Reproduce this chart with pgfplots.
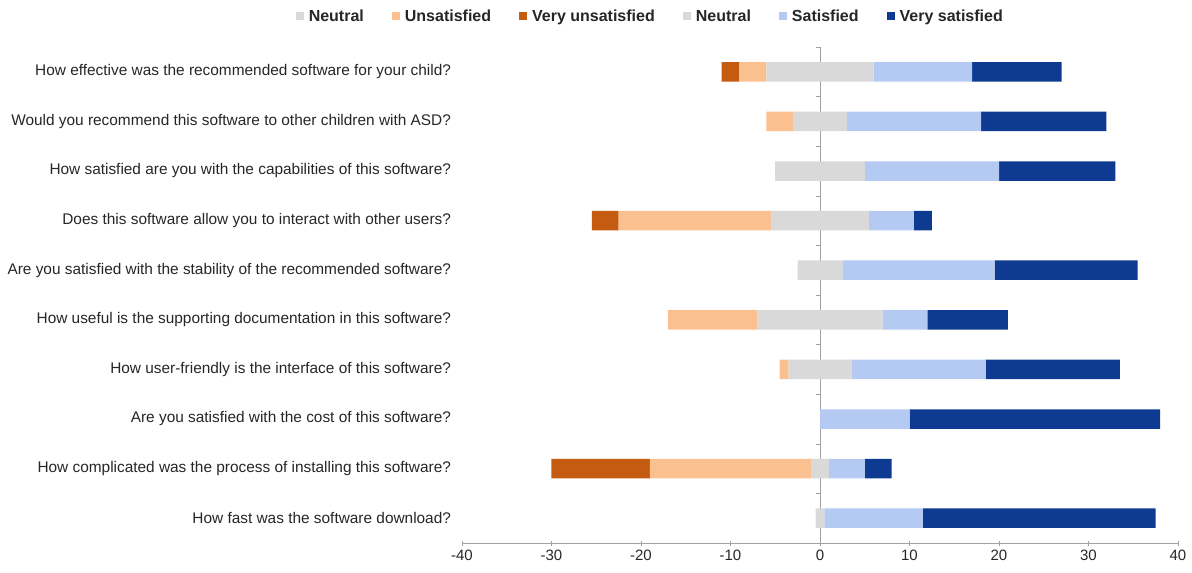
\documentclass[border=0pt]{standalone}
\usepackage{pgfplots}
\pgfplotsset{compat=1.18}
\usepackage{pgfplotstable}
\usepackage{fontspec}
\setmainfont{Liberation Sans}

\definecolor{neu}{RGB}{217,217,217}
\definecolor{uns}{RGB}{250,192,143}
\definecolor{vun}{RGB}{197,90,17}
\definecolor{sat}{RGB}{180,202,242}
\definecolor{vsa}{RGB}{14,58,146}
\definecolor{axgray}{RGB}{160,160,160}

% half of the neutral answers go left of zero, half right
\pgfplotstableread{
q nl u vu nr s vs
0 6 3 2 6 11 10
1 3 3 0 3 15 14
2 5 0 0 5 15 13
3 5.5 17 3 5.5 5 2
4 2.5 0 0 2.5 17 16
5 7 10 0 7 5 9
6 3.5 1 0 3.5 15 15
7 0 0 0 0 10 28
8 1 18 11 1 4 3
9 0.5 0 0 0.5 11 26
}\survey

\pgfplotsset{
  common/.style={
    width=716pt, height=496pt, scale only axis,
    xbar stacked, bar width=19.5pt,
    xmin=-40, xmax=40, ymin=-0.5, ymax=9.5, y dir=reverse,
    ytick={0,...,9},
  },
}

\begin{document}
\begin{tikzpicture}
\begin{axis}[common, name=ax,
  axis x line*=bottom, axis y line*=left,
  y axis line style={draw=none}, ytick style={draw=none},
  x axis line style={axgray},
  xtick={-40,-30,...,40}, xtick style={axgray}, tick align=center,
  major tick length=5pt,
  /pgf/number format/assume math mode=true,
  xticklabel style={font=\fontsize{15}{17}\selectfont, text=black!85, yshift=-1pt},
  yticklabel style={font=\fontsize{15.4}{17}\selectfont, text=black!85, xshift=-5pt},
  yticklabels={
    How effective was the recommended software for your child?,
    Would you recommend this software to other children with ASD?,
    How satisfied are you with the capabilities of this software?,
    Does this software allow you to interact with other users?,
    Are you satisfied with the stability of the recommended software?,
    How useful is the supporting documentation in this software?,
    How user-friendly is the interface of this software?,
    Are you satisfied with the cost of this software?,
    How complicated was the process of installing this software?,
    How fast was the software download?},
  legend columns=6,
  legend style={draw=none, at={(0.263,1.062)}, anchor=center,
    font=\bfseries\fontsize{16}{18}\selectfont, text=black!85,
    /tikz/every odd column/.append style={column sep=3pt},
    /tikz/every even column/.append style={column sep=26pt}},
  legend image code/.code={\fill[#1] (0pt,-4pt) rectangle (8pt,4pt);},
]
\draw[axgray] (axis cs:0,-0.5) -- (axis cs:0,9.5);
\pgfplotsinvokeforeach{-0.5,0.5,...,8.5}{\draw[axgray] (axis cs:0,#1) -- ++(-4pt,0pt);}
\addplot[fill=neu, draw=none] table[x expr=-\thisrow{nl}, y=q] {\survey};
\addlegendentry{Neutral}
\addplot[fill=uns, draw=none] table[x expr=-\thisrow{u}, y=q] {\survey};
\addlegendentry{Unsatisfied}
\addplot[fill=vun, draw=none] table[x expr=-\thisrow{vu}, y=q] {\survey};
\addlegendentry{Very unsatisfied}
\addlegendimage{fill=neu, draw=none}\addlegendentry{Neutral}
\addlegendimage{fill=sat, draw=none}\addlegendentry{Satisfied}
\addlegendimage{fill=vsa, draw=none}\addlegendentry{Very satisfied}
\end{axis}
\begin{axis}[common, hide axis]
\addplot[fill=neu, draw=none] table[x=nr, y=q] {\survey};
\addplot[fill=sat, draw=none] table[x=s, y=q] {\survey};
\addplot[fill=vsa, draw=none] table[x=vs, y=q] {\survey};
\end{axis}
\pgfresetboundingbox
\path ([shift={(-462pt,-29pt)}]ax.south west) rectangle ([shift={(14pt,47pt)}]ax.north east);
\end{tikzpicture}
\end{document}
